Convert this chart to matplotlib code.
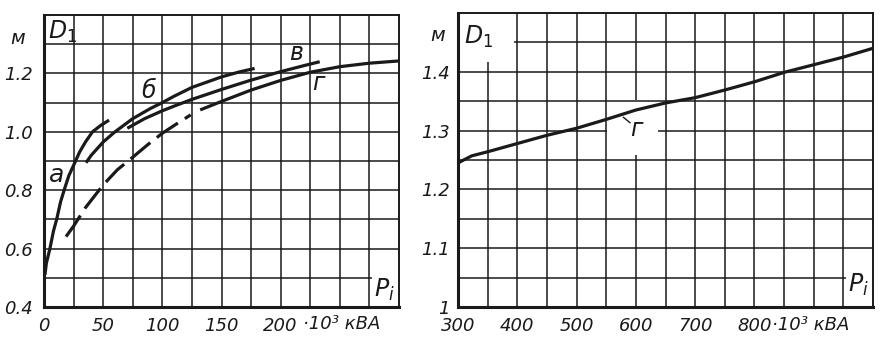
import matplotlib
matplotlib.use("Agg")
import matplotlib.pyplot as plt

# ---------------- data ----------------
# Left panel: D1 (m) vs P_i (10^3 kVA)
a_x = [0.8, 2, 5, 8, 10.7, 14, 17, 21, 25, 30, 35, 41, 48, 55]
a_y = [0.51, 0.55, 0.60, 0.66, 0.70, 0.76, 0.80, 0.85, 0.885, 0.93, 0.965, 1.0, 1.022, 1.04]

b_x = [35.5, 40, 50, 60, 75, 90, 100, 110, 125, 150, 165, 178]
b_y = [0.894, 0.92, 0.965, 1.0, 1.045, 1.08, 1.10, 1.122, 1.152, 1.188, 1.205, 1.217]

v_x = [70.4, 85, 100, 110, 125, 150, 175, 200, 220, 233]
v_y = [1.012, 1.045, 1.072, 1.088, 1.111, 1.145, 1.177, 1.206, 1.227, 1.24]

g_dash_x = [18.6, 25, 35, 50, 62, 75, 88, 100, 112, 124]
g_dash_y = [0.641, 0.677, 0.74, 0.818, 0.87, 0.913, 0.957, 0.995, 1.027, 1.058]
g_solid_x = [132, 150, 175, 200, 225, 250, 275, 301]
g_solid_y = [1.075, 1.104, 1.143, 1.176, 1.204, 1.223, 1.235, 1.243]

left_xticks = [0, 50, 100, 150, 200]
left_xlabels = ["0", "50", "100", "150", "200"]
left_yticks = [0.4, 0.6, 0.8, 1.0, 1.2]
left_ylabels = ["0.4", "0.6", "0.8", "1.0", "1.2"]

# Right panel: curve г
r_x = [300, 323, 350, 400, 450, 500, 550, 600, 650, 700, 750, 800, 850, 900, 950, 1000]
r_y = [1.245, 1.257, 1.264, 1.278, 1.292, 1.304, 1.319, 1.335, 1.347, 1.356, 1.369, 1.383, 1.399, 1.412, 1.425, 1.44]

right_xticks = [300, 400, 500, 600, 700, 800]
right_xlabels = ["300", "400", "500", "600", "700", "800"]
right_yticks = [1.0, 1.1, 1.2, 1.3, 1.4]
right_ylabels = ["1", "1.1", "1.2", "1.3", "1.4"]

# ---------------- styling ----------------
plt.rcParams['font.family'] = ['DejaVu Sans']
plt.rcParams['mathtext.fontset'] = 'dejavusans'
INK = "#1a1a1a"
GRID_LW = 1.1
CURVE_LW = 2.3
TICK_FS = 13
LBL_FS = 17

fig = plt.figure(figsize=(8.9, 3.6), dpi=100)
fig.patch.set_facecolor("white")

axL = fig.add_axes([44/890, 1-307/360, (399-44)/890, (307-15)/360])
axR = fig.add_axes([458/890, 1-307/360, (873-458)/890, (307-13)/360])

def style_axes(ax):
    for s in ["left", "bottom"]:
        ax.spines[s].set_linewidth(2.2)
        ax.spines[s].set_color(INK)
    for s in ["top", "right"]:
        ax.spines[s].set_linewidth(1.4)
        ax.spines[s].set_color(INK)
    ax.tick_params(length=0, labelsize=TICK_FS, colors=INK)
    for lab in ax.get_xticklabels() + ax.get_yticklabels():
        lab.set_fontstyle("italic")

# ---------- left panel ----------
axL.set_xlim(0, 300)
axL.set_ylim(0.4, 1.4)
gx = [25 * i for i in range(1, 12)]
gy = [0.5 + 0.1 * i for i in range(0, 9)]
for x in gx:
    axL.vlines(x, 0.4, 1.4, color=INK, lw=GRID_LW, zorder=1)
for y in gy:
    xe = 277 if abs(y - 0.5) < 1e-6 else 300
    axL.hlines(y, 0, xe, color=INK, lw=GRID_LW, zorder=1)

axL.plot(a_x, a_y, color=INK, lw=CURVE_LW, solid_capstyle="butt", zorder=3)
axL.plot(b_x, b_y, color=INK, lw=CURVE_LW, solid_capstyle="butt", zorder=3)
axL.plot(v_x, v_y, color=INK, lw=CURVE_LW, solid_capstyle="butt", zorder=3)
axL.plot(g_dash_x, g_dash_y, color=INK, lw=CURVE_LW, ls=(0, (8, 2.6)),
         dash_capstyle="butt", zorder=3)
axL.plot(g_solid_x, g_solid_y, color=INK, lw=CURVE_LW, solid_capstyle="butt", zorder=3)

axL.set_xticks(left_xticks, left_xlabels)
axL.set_yticks(left_yticks, left_ylabels)
style_axes(axL)
axL.tick_params(axis="x", pad=7)
axL.tick_params(axis="y", pad=8)

axL.text(-0.075, 1.32, "м", transform=axL.get_yaxis_transform(), ha="center", va="center",
         fontsize=TICK_FS + 1, fontstyle="italic", color=INK)
axL.text(219, -0.058, "·10³ кВА", transform=axL.get_xaxis_transform(), ha="left", va="center",
         fontsize=TICK_FS, fontstyle="italic", color=INK)
axL.text(3, 1.343, r"$D_1$", ha="left", va="center", fontsize=LBL_FS, color=INK)
axL.text(288, 0.458, r"$P_i$", ha="center", va="center", fontsize=LBL_FS, color=INK)
axL.text(10.5, 0.852, "а", ha="center", va="center", fontsize=LBL_FS + 1, fontstyle="italic", color=INK)
axL.text(88.7, 1.14, "б", ha="center", va="center", fontsize=LBL_FS, fontstyle="italic", color=INK)
axL.text(213, 1.27, "в", ha="center", va="center", fontsize=LBL_FS, fontstyle="italic", color=INK)
axL.text(231.5, 1.167, "г", ha="center", va="center", fontsize=LBL_FS, fontstyle="italic", color=INK)

# ---------- right panel ----------
axR.set_xlim(300, 1000)
axR.set_ylim(1.0, 1.5)
rgx = [350 + 50 * i for i in range(0, 13)]
rgy = [1.05 + 0.05 * i for i in range(0, 9)]
for x in rgx:
    if x == 350:
        axR.vlines(x, 1.0, 1.417, color=INK, lw=GRID_LW, zorder=1)
    elif x == 600:
        axR.vlines(x, 1.0, 1.258, color=INK, lw=GRID_LW, zorder=1)
        axR.vlines(x, 1.352, 1.5, color=INK, lw=GRID_LW, zorder=1)
    else:
        axR.vlines(x, 1.0, 1.5, color=INK, lw=GRID_LW, zorder=1)
for y in rgy:
    if abs(y - 1.05) < 1e-6:
        axR.hlines(y, 300, 954, color=INK, lw=GRID_LW, zorder=1)
    elif abs(y - 1.3) < 1e-6:
        axR.hlines(y, 300, 551, color=INK, lw=GRID_LW, zorder=1)
        axR.hlines(y, 637, 1000, color=INK, lw=GRID_LW, zorder=1)
    elif abs(y - 1.45) < 1e-6:
        axR.hlines(y, 395, 1000, color=INK, lw=GRID_LW, zorder=1)
    else:
        axR.hlines(y, 300, 1000, color=INK, lw=GRID_LW, zorder=1)

axR.plot(r_x, r_y, color=INK, lw=CURVE_LW, solid_capstyle="butt", zorder=3, clip_on=False)
axR.plot([579, 590], [1.3226, 1.3135], color=INK, lw=1.0, zorder=3)

axR.set_xticks(right_xticks, right_xlabels)
axR.set_yticks(right_yticks, right_ylabels)
style_axes(axR)
axR.tick_params(axis="x", pad=7)
axR.tick_params(axis="y", pad=6)

axR.text(-0.05, 1.462, "м", transform=axR.get_yaxis_transform(), ha="center", va="center",
         fontsize=TICK_FS + 1, fontstyle="italic", color=INK)
axR.text(830, -0.061, "·10³ кВА", transform=axR.get_xaxis_transform(), ha="left", va="center",
         fontsize=TICK_FS, fontstyle="italic", color=INK)
axR.text(335, 1.459, r"$D_1$", ha="center", va="center", fontsize=LBL_FS, color=INK)
axR.text(976, 1.037, r"$P_i$", ha="center", va="center", fontsize=LBL_FS, color=INK)
axR.text(600, 1.303, "г", ha="center", va="center", fontsize=LBL_FS, fontstyle="italic", color=INK)

fig.savefig("out.png", dpi=100, facecolor="white")
